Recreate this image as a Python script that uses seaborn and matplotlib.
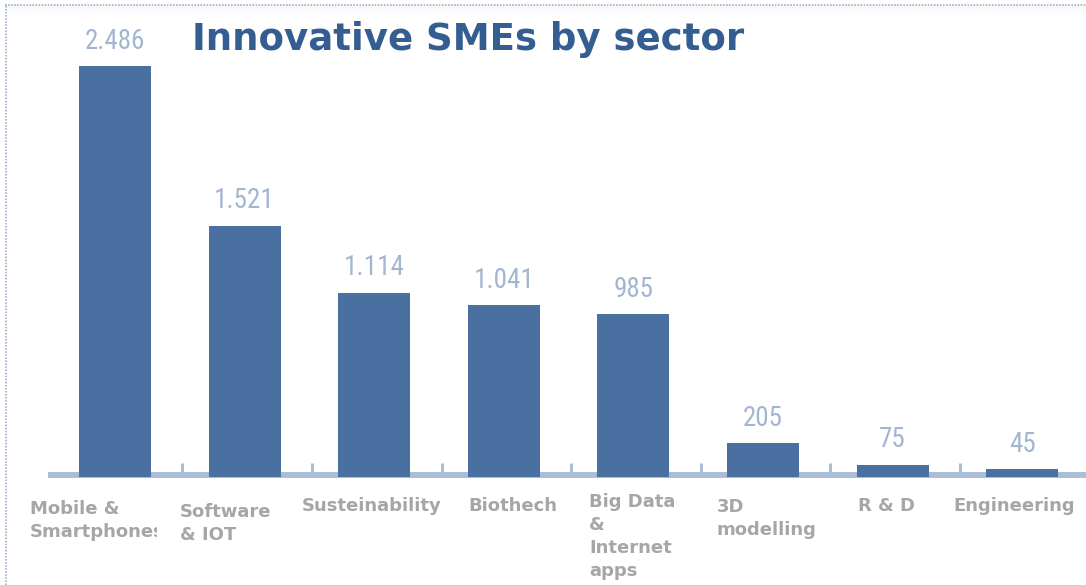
import numpy as np
import pandas as pd
import matplotlib
matplotlib.use("Agg")
import matplotlib.pyplot as plt
import seaborn as sns
from matplotlib import font_manager
from matplotlib.lines import Line2D
from matplotlib.transforms import Bbox, TransformedBbox

# ---- data -------------------------------------------------------------
sectors = [
    "Mobile &\nSmartphones",
    "Software\n& IOT",
    "Susteinability",
    "Biothech",
    "Big Data\n&\nInternet\napps",
    "3D\nmodelling",
    "R & D",
    "Engineering",
]
companies = [2486, 1521, 1114, 1041, 985, 205, 75, 45]
title = "Innovative SMEs by sector"

# ---- style ------------------------------------------------------------
BAR = "#4A70A1"
BASE = "#ABBED6"
VALUE = "#A2B6D2"
TITLE = "#345E92"
LABEL = "#A6A6A6"
BORDER = "#8FA6C9"

W, H, DPI = 1086, 585, 100
sns.set_theme(style="white")
plt.rcParams["font.family"] = ["DejaVu Sans"]

# narrowest available face for the value labels
installed = {f.name for f in font_manager.fontManager.ttflist}
narrow = [n for n in ("Roboto Condensed", "Liberation Sans Narrow",
                      "Open Sans Condensed", "Roboto") if n in installed]
print("value font:", narrow[:1])
value_family = narrow[:1] + ["DejaVu Sans"]
is_narrow = bool(narrow) and narrow[0] != "Roboto"

fig = plt.figure(figsize=(W / DPI, H / DPI), dpi=DPI)
fig.patch.set_facecolor("white")
ax = fig.add_axes([0, 0, 1, 1])

df = pd.DataFrame({"sector": sectors, "count": companies})
sns.barplot(data=df, x="sector", y="count", color=BAR, saturation=1,
            width=0.555, linewidth=0, ax=ax, zorder=3)

ax.set_xlim(-0.887, 7.492)
ax.set_ylim(-654, 2886)
ax.axis("off")

# baseline with small ticks between the categories
ax.plot([-0.517, 7.6], [10, 10], color=BASE, lw=4.3,
        solid_capstyle="butt", zorder=2)
ax.vlines(np.arange(len(sectors)) + 0.52, 28, 85, color=BASE, lw=2.2, zorder=2)

# value labels (European thousands separator)
value_text = [f"{v:,}".replace(",", ".") for v in companies]
ax.bar_label(ax.containers[0], labels=value_text, padding=8.2,
             fontsize=19.5 if is_narrow else 17.5, color=VALUE,
             family=value_family)

# title
fig.text(192 / W, 1 - 49.5 / H, title, fontsize=26.7, fontweight="bold",
         color=TITLE, ha="left", va="baseline")

# category labels under the baseline
label_left_px = [30, 180, 302, 468, 589, 717, 858, 953]
label_top_px = [500, 503, 497, 497, 493, 498, 497, 497]
for i, (name, lx, ly) in enumerate(zip(sectors, label_left_px, label_top_px)):
    t = fig.text(lx / W, 1 - ly / H, name, fontsize=13, fontweight="bold",
                 color=LABEL, ha="left", va="top", multialignment="left",
                 linespacing=1.35)
    if i == 0:
        # the long word is cut off by its text box
        t.set_clip_box(TransformedBbox(Bbox.from_extents(0, 0, 157 / W, 1),
                                       fig.transFigure))
        t.set_clip_on(True)

# dotted frame on the left and top edges, with a faint shadow below the top
shade = fig.add_axes([6 / W, 1 - 16 / H, 1 - 6 / W, 11 / H])
grad = np.zeros((11, 2, 4))
grad[..., :3] = 0.55
grad[..., 3] = np.linspace(0.07, 0.0, 11)[:, None]
shade.imshow(grad, aspect="auto", interpolation="bilinear")
shade.axis("off")

fig.add_artist(Line2D([5.5 / W, 5.5 / W], [0, 1 - 4 / H], transform=fig.transFigure,
                      color=BORDER, lw=1.1, ls=(0, (1, 1))))
fig.add_artist(Line2D([5 / W, 1], [1 - 4.5 / H, 1 - 4.5 / H], transform=fig.transFigure,
                      color=BORDER, lw=1.1, ls=(0, (1, 1))))

fig.savefig("out.png", dpi=DPI, facecolor="white")
